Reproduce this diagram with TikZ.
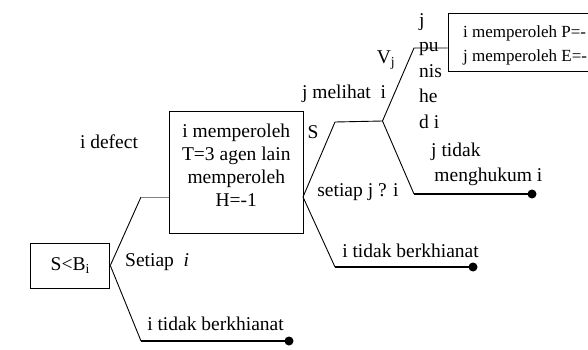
\documentclass[tikz,border=0pt]{standalone}
\usepackage{fontspec}
\setmainfont{Liberation Serif}
\begin{document}
\begin{tikzpicture}[x=1pt,y=-1pt,
  box/.style={draw, line width=1pt, inner sep=0pt},
  lbl/.style={font=\fontsize{19.5}{22}\selectfont, inner sep=0pt},
  br/.style={line width=0.9pt},
  endline/.style={line width=1.8pt},
  leaf/.style={circle, fill=black, inner sep=0pt, minimum size=9pt}]
\useasboundingbox (0,0) rectangle (588,350);
\clip (0,0) rectangle (588,350);
% boxes
\node[box, lbl, minimum width=79pt, minimum height=45pt] (root) at (70.3,265.5) {S<B\textsubscript{i}};
\node[box, minimum width=133.5pt, minimum height=122pt] (mid) at (236.3,172) {};
\node[lbl, align=center, font=\fontsize{19.5}{23}\selectfont] (midtext) at (236.3,165) {i memperoleh\\T=3 agen lain\\memperoleh\\H=-1};
\node[box, minimum width=220pt, minimum height=58pt] (top) at (558,43) {};
\node[lbl, align=left, anchor=west, font=\fontsize{17}{24}\selectfont] (toptext) at (463,45) {i memperoleh P=-\\j memperoleh E=-};
% branch points
\coordinate (a1) at (141,197);
\coordinate (a2) at (141,341);
\coordinate (b0) at (303,197);
\coordinate (b1) at (335,122);
\coordinate (b2) at (382.5,121);
\coordinate (b3) at (335,267);
\coordinate (c1) at (414,48);
\coordinate (c2) at (414,194);
\node[leaf] (l1) at (289,341) {};
\node[leaf] (l2) at (473,267) {};
\node[leaf] (l3) at (532,194) {};
% connectors
\draw[br] (root.east) -- (a1);
\draw[gray, line width=0.5pt] (a1) -- (a1 -| mid.west);
\draw[br] (root.east) -- (a2);
\draw[endline] (a2) -- (l1.center);
\draw[br] (b0) -- (b1) -- (b2);
\draw[br] (b2) -- (c1) -- (c1 -| top.west);
\draw[br] (b2) -- (c2);
\draw[endline] (c2) -- (l3.center);
\draw[br] (b0) -- (b3);
\draw[endline] (b3) -- (l2.center);
% labels
\node[lbl] (ldefect) at (109,142) {i defect};
\node[lbl, anchor=west] (lsetiap) at (125,262) {Setiap \ \textit{i}};
\node[lbl] (ltb1) at (215.5,324) {i tidak berkhianat};
\node[lbl] (lS) at (313,132) {S};
\node[lbl] (lmelihat) at (344,94) {j melihat \ i};
\node[lbl] (lVj) at (386,60) {V\textsubscript{j}};
\node[lbl, align=left, anchor=west, font=\fontsize{19.5}{25.5}\selectfont] (lpunished) at (419,71) {j\\pu\\nis\\he\\d i};
\node[lbl, align=left, anchor=west, font=\fontsize{19.5}{25}\selectfont] (lnotpunish) at (431,164.5) {j tidak\\\,menghukum i};
\node[lbl] (lsetiapj) at (358,192) {setiap j ? i};
\node[lbl] (ltb2) at (410.5,251) {i tidak berkhianat};
\end{tikzpicture}
\end{document}
